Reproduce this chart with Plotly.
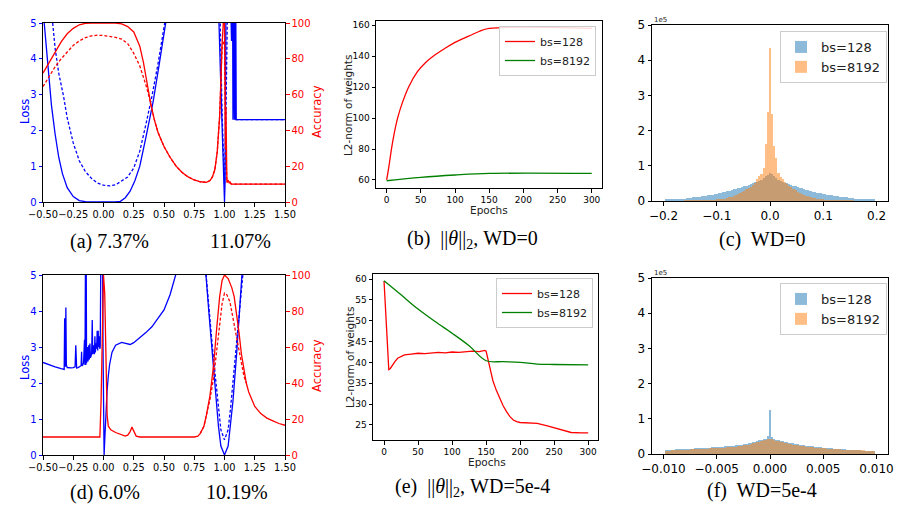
import numpy as np
import plotly.graph_objects as go

W, H = 909, 519

# ---------------- (a) loss / accuracy along interpolation, WD=0
a_x_train_loss = [-0.49, -0.47, -0.45, -0.43, -0.40, -0.37, -0.34, -0.30, -0.25, -0.20, -0.15, -0.10, 0.00, 0.10,
                  0.14, 0.18, 0.22, 0.26, 0.30, 0.35, 0.41, 0.46, 0.51, 0.53, 0.70, 0.93, 0.95, 0.97, 0.99, 1.00,
                  1.005, 1.012, 1.03, 1.055, 1.058, 1.061, 1.064, 1.067, 1.07, 1.073, 1.076, 1.079, 1.082, 1.086,
                  1.09, 1.093, 1.097, 1.10, 1.50]
a_y_train_loss = [5.0, 4.2, 3.4, 2.7, 1.9, 1.25, 0.8, 0.4, 0.15, 0.04, 0.01, 0.0, 0.0, 0.0,
                  0.02, 0.12, 0.3, 0.6, 1.0, 1.8, 2.8, 3.84, 5.0, 5.5, 9, 9, 5.5, 3.2, 0.9, 0.0,
                  0.6, 5.5, 9, 5.5, 4.5, 5.5, 4.5, 5.5, 2.3, 5.5, 2.3, 5.5, 2.3, 5.5,
                  2.3, 5.5, 2.3, 2.3, 2.3]
a_x_test_loss = [-0.42, -0.40, -0.37, -0.33, -0.30, -0.25, -0.20, -0.15, -0.10, -0.05, 0.00, 0.05, 0.10, 0.15,
                 0.20, 0.25, 0.30, 0.35, 0.40, 0.45, 0.50, 0.53, 0.70, 0.94, 0.96, 0.98, 1.00, 1.01, 1.025, 1.05,
                 1.08, 1.09, 1.10, 1.50]
a_y_test_loss = [5.0, 4.3, 3.6, 2.95, 2.35, 1.65, 1.15, 0.85, 0.66, 0.53, 0.47, 0.45, 0.48, 0.58,
                 0.7, 0.95, 1.42, 2.16, 2.95, 3.85, 4.8, 5.5, 9, 9, 5.5, 2.5, 0.5, 2.0, 5.5, 9,
                 5.5, 2.3, 2.3, 2.3]
a_x_train_acc = [-0.5, -0.45, -0.4, -0.35, -0.3, -0.25, -0.2, -0.15, -0.1, 0.0, 0.1, 0.15, 0.2, 0.25, 0.3, 0.33,
                 0.36, 0.39, 0.42, 0.45, 0.5, 0.55, 0.6, 0.65, 0.7, 0.75, 0.8, 0.85, 0.88, 0.9, 0.92, 0.94, 0.96,
                 0.97, 0.98, 0.99, 1.0, 1.005, 1.008, 1.012, 1.016, 1.02, 1.03, 1.04, 1.045, 1.05, 1.06, 1.5]
a_y_train_acc = [72, 78, 84, 89.5, 94, 97, 99, 99.8, 100, 100, 100, 99.5, 98, 95, 87, 78,
                 66, 55, 46, 39, 31, 25, 20, 16.5, 14, 12.3, 11.3, 11, 12, 14, 18, 28, 48,
                 70, 88, 100, 100, 52, 30, 53, 14, 11, 12, 10.5, 11.5, 10.2, 10, 10]
a_x_test_acc = [-0.5, -0.45, -0.4, -0.35, -0.3, -0.25, -0.2, -0.15, -0.1, -0.05, 0.0, 0.05, 0.1, 0.15, 0.2,
                0.25, 0.3, 0.35, 0.38, 0.42, 0.45, 0.5, 0.55, 0.6, 0.65, 0.7, 0.75, 0.8, 0.85, 0.88, 0.9, 0.92,
                0.94, 0.96, 0.97, 0.98, 0.99, 1.0, 1.01, 1.02, 1.03, 1.05, 1.06, 1.5]
a_y_test_acc = [64.5, 70, 75.5, 80, 84, 87.5, 90, 91.8, 92.8, 93.2, 93, 92.6, 92, 91, 88.5,
                83, 76, 65.5, 58, 46, 39, 31, 25, 20, 16.5, 14, 12.3, 11.3, 11, 12, 14, 18,
                28, 48, 70, 86, 90, 88, 30, 11, 12, 10.5, 10, 10]

# ---------------- (d) same, WD=5e-4
d_x_train_loss = [-0.5, -0.45, -0.4, -0.35, -0.325, -0.321, -0.318, -0.315, -0.311, -0.307, -0.3, -0.29, -0.27,
                  -0.25, -0.235, -0.229, -0.226, -0.222, -0.21, -0.2, -0.185, -0.181, -0.178, -0.172, -0.165,
                  -0.157, -0.153, -0.149, -0.146, -0.143, -0.14, -0.136, -0.133, -0.128, -0.122, -0.117, -0.112,
                  -0.108, -0.103, -0.098, -0.093, -0.089, -0.085, -0.08, -0.075, -0.071, -0.067, -0.062, -0.057,
                  -0.052, -0.048, -0.044, -0.04, -0.035, -0.031, -0.027, -0.022, -0.016, -0.008, -0.004, 0.0,
                  0.005, 0.01, 0.02, 0.03, 0.04, 0.05, 0.07, 0.1, 0.15, 0.18, 0.22, 0.25, 0.3, 0.35, 0.4, 0.45,
                  0.5, 0.55, 0.6, 0.63, 0.75, 0.84, 0.87, 0.9, 0.93, 0.95, 0.97, 1.0, 1.03, 1.05, 1.07, 1.1,
                  1.12, 1.15, 1.25, 1.5]
d_y_train_loss = [2.57, 2.5, 2.45, 2.4, 2.38, 3.8, 2.5, 2.45, 4.1, 2.5, 2.43, 2.42, 2.42,
                  2.43, 2.45, 3.05, 2.45, 2.42, 2.43, 2.45, 2.48, 2.87, 2.48, 2.5, 2.55,
                  3.2, 2.5, 5.5, 2.5, 5.5, 2.55, 2.7, 3.0, 2.6, 3.05, 2.65, 3.1,
                  2.7, 2.75, 2.8, 3.75, 2.8, 2.85, 3.05, 2.8, 3.3, 2.85, 3.1, 2.95,
                  3.45, 2.9, 3.45, 3.0, 3.3, 2.95, 3.0, 5.5, 5.5, 5.5, 3.0, 1.0,
                  0.0, 0.4, 1.2, 1.8, 2.2, 2.5, 2.85, 3.05, 3.13, 3.1, 3.07, 3.12, 3.25, 3.4, 3.56, 3.8,
                  4.03, 4.45, 5.0, 5.4, 8, 5.3, 4.0, 2.8, 1.5, 0.8, 0.25, 0.0, 0.25, 0.8, 1.5, 2.8,
                  3.8, 5.3, 8, 8]
d_x_test_loss = [0.84, 0.87, 0.9, 0.93, 0.95, 0.97, 1.0, 1.03, 1.05, 1.07, 1.1, 1.13, 1.16]
d_y_test_loss = [5.3, 4.1, 3.0, 2.0, 1.3, 0.7, 0.42, 0.7, 1.3, 2.0, 3.0, 4.1, 5.3]
d_x_train_acc = [-0.5, -0.03, -0.02, -0.01, 0.0, 0.01, 0.02, 0.03, 0.04, 0.06, 0.1, 0.15, 0.18, 0.2, 0.22, 0.235,
                 0.25, 0.27, 0.3, 0.75, 0.78, 0.8, 0.83, 0.85, 0.88, 0.91, 0.935, 0.96, 0.98, 1.0, 1.03, 1.06,
                 1.08, 1.1, 1.12, 1.14, 1.16, 1.18, 1.2, 1.25, 1.3, 1.35, 1.4, 1.45, 1.5]
d_y_train_acc = [10, 10, 30, 80, 100, 90, 50, 22, 16, 14, 12.5, 11, 10.5, 11, 13, 15.5,
                 13, 10.5, 10, 10, 10.5, 12, 16, 22, 33, 50, 70, 88, 97, 100, 98, 93,
                 88, 79, 68, 56, 47, 40, 35, 27, 23, 20.5, 19, 17.5, 16.5]
d_x_test_acc = [0.8, 0.83, 0.85, 0.88, 0.91, 0.935, 0.96, 0.98, 1.0, 1.02, 1.045, 1.07, 1.1, 1.14, 1.16, 1.18]
d_y_test_acc = [12, 16, 22, 31, 43, 59, 74, 84, 90, 89, 85, 76, 65, 50, 44, 40]

# ---------------- (b) / (e) L2 norm of weights over epochs
b_epochs_128 = [0, 3, 7, 11, 16, 23, 32, 45, 57, 68, 85, 100, 120, 135, 150, 300]
b_norm_128 = [60, 68, 80, 90, 100, 110, 120, 130, 136, 140, 145, 149, 153, 156, 158, 158]
b_epochs_8192 = [0, 50, 100, 150, 300]
b_norm_8192 = [59.5, 61.7, 63.2, 64.2, 64.2]

e_epochs_128 = [0, 7, 9, 12, 16, 20, 25, 30, 40, 50, 60, 70, 80, 90, 100, 110, 120, 130, 140, 148, 150, 155,
                160, 165, 170, 175, 180, 185, 190, 195, 200, 210, 225, 240, 250, 260, 275, 290, 300]
e_norm_128 = [59.5, 38.3, 38.5, 39.3, 40.2, 41.0, 41.4, 41.8, 42.0, 42.2, 42.1, 42.3, 42.4, 42.3, 42.5, 42.4,
              42.6, 42.7, 42.6, 42.9, 42.7, 39.5, 35.6, 33.3, 31.4, 29.6, 28.2, 27.0, 26.2, 25.8, 25.6, 25.5,
              25.4, 24.8, 24.3, 23.9, 23.2, 23.1, 23.1]
e_epochs_8192 = [0, 25, 50, 75, 100, 125, 150, 175, 200, 225, 250, 300]
e_norm_8192 = [59.6, 56.2, 52.8, 49.8, 47.0, 44.0, 40.4, 40.2, 40.0, 39.6, 39.5, 39.4]

# ---------------- (c) / (f) weight histograms, counts in units of 1e5
c_bins = np.round(np.arange(-49, 50) * 0.004, 4)
c_count_128 = [0.04, 0.04, 0.05, 0.05, 0.05, 0.06, 0.06, 0.06, 0.07, 0.07,
               0.08, 0.08, 0.09, 0.10, 0.10, 0.11, 0.12, 0.13, 0.14, 0.15,
               0.16, 0.17, 0.18, 0.19, 0.21, 0.22, 0.23, 0.25, 0.26, 0.28,
               0.29, 0.31, 0.33, 0.34, 0.36, 0.38, 0.40, 0.42, 0.44, 0.46,
               0.48, 0.50, 0.53, 0.55, 0.58, 0.61, 0.65, 0.70, 0.74,
               0.80,
               0.76, 0.70, 0.65, 0.61, 0.58, 0.55, 0.52, 0.50, 0.48,
               0.46, 0.44, 0.42, 0.40, 0.38, 0.36, 0.34, 0.32, 0.30, 0.29,
               0.27, 0.26, 0.24, 0.23, 0.22, 0.20, 0.19, 0.18, 0.17, 0.16,
               0.15, 0.14, 0.13, 0.12, 0.11, 0.10, 0.10, 0.09, 0.08, 0.08,
               0.07, 0.07, 0.06, 0.06, 0.05, 0.05, 0.05, 0.04, 0.04, 0.04]
c_count_8192 = [0, 0, 0, 0, 0, 0, 0, 0, 0, 0.002,
                0.003, 0.004, 0.005, 0.006, 0.007, 0.008, 0.009, 0.010, 0.012, 0.014,
                0.016, 0.019, 0.022, 0.026, 0.031, 0.037, 0.045, 0.055, 0.066, 0.08,
                0.10, 0.12, 0.14, 0.17, 0.20, 0.23, 0.26, 0.29, 0.33, 0.36,
                0.40, 0.45, 0.52, 0.62, 0.70, 0.78, 0.93, 1.61, 2.54,
                4.34,
                2.47, 1.56, 1.21, 0.79, 0.68, 0.62, 0.55, 0.49, 0.44,
                0.40, 0.35, 0.31, 0.27, 0.24, 0.21, 0.18, 0.15, 0.13, 0.11,
                0.09, 0.075, 0.062, 0.05, 0.04, 0.033, 0.027, 0.022, 0.018, 0.015,
                0.012, 0.010, 0.008, 0.007, 0.006, 0.005, 0.004, 0.003, 0.002, 0.002,
                0, 0, 0, 0, 0, 0, 0, 0, 0, 0]

f_bins = np.round(np.arange(-49, 50) * 0.0002, 5)
f_count_128 = [0.10, 0.11, 0.11, 0.12, 0.12, 0.13, 0.13, 0.14, 0.14, 0.14,
               0.14, 0.15, 0.15, 0.15, 0.16, 0.16, 0.16, 0.17, 0.17, 0.17,
               0.18, 0.18, 0.19, 0.19, 0.20, 0.20, 0.21, 0.21, 0.22, 0.22,
               0.23, 0.23, 0.24, 0.25, 0.26, 0.26, 0.27, 0.28, 0.29, 0.31,
               0.32, 0.34, 0.35, 0.37, 0.39, 0.40, 0.42, 0.44, 0.50,
               1.25,
               0.48, 0.43, 0.41, 0.39, 0.38, 0.36, 0.35, 0.34, 0.32,
               0.31, 0.30, 0.29, 0.28, 0.27, 0.26, 0.25, 0.24, 0.24, 0.23,
               0.22, 0.21, 0.20, 0.19, 0.19, 0.18, 0.17, 0.17, 0.16, 0.16,
               0.15, 0.15, 0.14, 0.14, 0.13, 0.13, 0.12, 0.12, 0.11, 0.11,
               0.10, 0.10, 0.10, 0.09, 0.09, 0.09, 0.08, 0.08, 0.08, 0.08]
f_count_8192 = [0.08, 0.09, 0.09, 0.10, 0.10, 0.11, 0.11, 0.11, 0.12, 0.12,
                0.12, 0.12, 0.13, 0.13, 0.13, 0.13, 0.14, 0.14, 0.15, 0.15,
                0.15, 0.16, 0.16, 0.16, 0.17, 0.17, 0.17, 0.18, 0.18, 0.19,
                0.19, 0.20, 0.21, 0.21, 0.22, 0.23, 0.24, 0.25, 0.26, 0.27,
                0.29, 0.30, 0.32, 0.33, 0.35, 0.37, 0.39, 0.41, 0.42,
                0.43,
                0.42, 0.40, 0.38, 0.37, 0.35, 0.34, 0.32, 0.31, 0.29,
                0.28, 0.27, 0.26, 0.25, 0.24, 0.23, 0.22, 0.21, 0.21, 0.20,
                0.19, 0.18, 0.18, 0.17, 0.17, 0.16, 0.16, 0.15, 0.15, 0.14,
                0.14, 0.13, 0.13, 0.13, 0.12, 0.12, 0.12, 0.11, 0.11, 0.11,
                0.11, 0.10, 0.10, 0.10, 0.10, 0.09, 0.09, 0.09, 0.09, 0.09]

BLUE, RED, GREEN = "#0000ff", "#ff0000", "#008000"
HIST_BLUE, HIST_ORANGE = "#1f77b4", "#ff7f0e"
SANS = "DejaVu Sans"
SERIF = "Liberation Serif"


def hx(p):
    return p / W


def hy(p):
    return 1 - p / H


fig = go.Figure()


def add_line(x, y, xa, ya, color, dash="solid", name=None, legend=None, shape="linear"):
    fig.add_trace(go.Scatter(x=x, y=y, xaxis=xa, yaxis=ya, mode="lines",
                             line=dict(color=color, width=1.3, dash=dash, shape=shape),
                             name=name, showlegend=legend is not None,
                             legend=legend or "legend", hoverinfo="skip"))


def add_hist(x, y, width, xa, ya, color, name, legend):
    fig.add_trace(go.Bar(x=x, y=y, width=width, xaxis=xa, yaxis=ya, name=name,
                         marker=dict(color=color, line=dict(width=0)), opacity=0.5,
                         legend=legend, hoverinfo="skip"))


# (a)
add_line(a_x_train_loss, a_y_train_loss, "x", "y", BLUE)
add_line(a_x_test_loss, a_y_test_loss, "x", "y", BLUE, dash="3px,2px")
add_line(a_x_train_acc, a_y_train_acc, "x", "y2", RED)
add_line(a_x_test_acc, a_y_test_acc, "x", "y2", RED, dash="3px,2px")
# (d)
add_line(d_x_train_loss, d_y_train_loss, "x2", "y3", BLUE)
add_line(d_x_test_loss, d_y_test_loss, "x2", "y3", BLUE, dash="3px,2px")
add_line(d_x_train_acc, d_y_train_acc, "x2", "y4", RED)
add_line(d_x_test_acc, d_y_test_acc, "x2", "y4", RED, dash="3px,2px")
# (b)
add_line(b_epochs_128, b_norm_128, "x3", "y5", RED, name="bs=128", legend="legend", shape="spline")
add_line(b_epochs_8192, b_norm_8192, "x3", "y5", GREEN, name="bs=8192", legend="legend", shape="spline")
# (e)
add_line(e_epochs_128, e_norm_128, "x4", "y6", RED, name="bs=128", legend="legend2")
add_line(e_epochs_8192, e_norm_8192, "x4", "y6", GREEN, name="bs=8192", legend="legend2", shape="spline")
# (c)
add_hist(c_bins, c_count_128, 0.004, "x5", "y7", HIST_BLUE, "bs=128", "legend3")
add_hist(c_bins, c_count_8192, 0.004, "x5", "y7", HIST_ORANGE, "bs=8192", "legend3")
# (f)
add_hist(f_bins, f_count_128, 0.0002, "x6", "y8", HIST_BLUE, "bs=128", "legend4")
add_hist(f_bins, f_count_8192, 0.0002, "x6", "y8", HIST_ORANGE, "bs=8192", "legend4")


def axis(domain, rng, size=10, color="#000000", **kw):
    d = dict(domain=domain, range=rng, showline=True, linecolor="black", linewidth=1, mirror=True,
             ticks="outside", ticklen=3.5, tickwidth=1, tickcolor=color, showgrid=False, zeroline=False,
             tickfont=dict(family=SANS, size=size, color=color), fixedrange=True,
             automargin=False, tickangle=0)
    d.update(kw)
    return d


A_X = [hx(43), hx(285)]
layout = dict(
    width=W, height=H, margin=dict(l=0, r=0, t=0, b=0, autoexpand=False),
    paper_bgcolor="white", plot_bgcolor="white", barmode="overlay", bargap=0,
    font=dict(family=SANS, color="#222"),
    xaxis=axis(A_X, [-0.5, 1.5], size=9.8, anchor="y", tick0=-0.5, dtick=0.25, tickformat=".2f"),
    yaxis=axis([hy(202), hy(23)], [0, 5], color=BLUE, anchor="x", dtick=1),
    yaxis2=axis([hy(202), hy(23)], [0, 100], color=RED, anchor="x", overlaying="y", side="right",
                dtick=20, mirror=False),
    xaxis2=axis(A_X, [-0.5, 1.5], size=9.8, anchor="y3", tick0=-0.5, dtick=0.25, tickformat=".2f"),
    yaxis3=axis([hy(455), hy(275)], [0, 5], color=BLUE, anchor="x2", dtick=1),
    yaxis4=axis([hy(455), hy(275)], [0, 100], color=RED, anchor="x2", overlaying="y3", side="right",
                dtick=20, mirror=False),
    xaxis3=axis([hx(376), hx(602)], [-15.6, 315], size=9, anchor="y5", dtick=50),
    yaxis5=axis([hy(188), hy(21)], [54.8, 162.8], size=9, anchor="x3", dtick=20),
    xaxis4=axis([hx(373), hx(598)], [-16.2, 314.4], size=9, anchor="y6", dtick=50),
    yaxis6=axis([hy(440), hy(274)], [21.4, 61.2], size=9, anchor="x4", dtick=5),
    xaxis5=axis([hx(652), hx(888)], [-0.2215, 0.2215], size=12, anchor="y7", dtick=0.1, tickformat=".1f"),
    yaxis7=axis([hy(201), hy(25)], [0, 5], size=12, anchor="x5", dtick=1),
    xaxis6=axis([hx(652), hx(888)], [-0.01108, 0.01108], size=12, anchor="y8", dtick=0.005,
                tickformat=".3f"),
    yaxis8=axis([hy(454), hy(278)], [0, 5], size=12, anchor="x6", dtick=1),
)

leg = dict(bgcolor="rgba(255,255,255,0.85)", bordercolor="#cccccc", borderwidth=1,
           xanchor="right", yanchor="top", tracegroupgap=0, itemwidth=30)
layout["legend"] = dict(leg, x=hx(596), y=hy(26), font=dict(family=SANS, size=11, color="#222"))
layout["legend2"] = dict(leg, x=hx(593), y=hy(278), font=dict(family=SANS, size=11, color="#222"))
layout["legend3"] = dict(leg, x=hx(887), y=hy(31), font=dict(family=SANS, size=13, color="#222"))
layout["legend4"] = dict(leg, x=hx(887), y=hy(283), font=dict(family=SANS, size=13, color="#222"))

fig.update_layout(**layout)


def label(text, x, y, size, color="#222", angle=0, family=SANS, xanchor="center"):
    fig.add_annotation(text=text, x=hx(x), y=hy(y), xref="paper", yref="paper", showarrow=False,
                       textangle=angle, xanchor=xanchor, yanchor="middle",
                       font=dict(family=family, size=size, color=color))


# axis titles
label("Loss", 25, 112, 11.5, BLUE, -90)
label("Accuracy", 317, 112, 11.5, RED, -90)
label("Loss", 25, 368, 11.5, BLUE, -90)
label("Accuracy", 317, 366, 11.5, RED, -90)
label("L2-norm of weights", 348, 106, 10.5, angle=-90)
label("Epochs", 489, 209.5, 10.5)
label("L2-norm of weights", 350, 358, 10.5, angle=-90)
label("Epochs", 487, 461.5, 10.5)
label("1e5", 652, 20, 7, xanchor="left")
label("1e5", 652, 273, 7, xanchor="left")

# captions
CAP = 20
label("(a) 7.37%", 68, 241, CAP, "#000", family=SERIF, xanchor="left")
label("11.07%", 273, 241, CAP, "#000", family=SERIF, xanchor="right")
label("(d) 6.0%", 68, 492, CAP, "#000", family=SERIF, xanchor="left")
label("10.19%", 270, 492, CAP, "#000", family=SERIF, xanchor="right")
label("(b)  ||<i>θ</i>||<sub>2</sub>, WD=0", 472, 239, CAP, "#000", family=SERIF)
label("(e)  ||<i>θ</i>||<sub>2</sub>, WD=5e-4", 472, 487, CAP, "#000", family=SERIF)
label("(c)  WD=0", 762, 239, CAP, "#000", family=SERIF)
label("(f)  WD=5e-4", 762, 490, CAP, "#000", family=SERIF)

# the page keeps the browser's default 8px body margin; drop it so paper pixels match the window
fig.write_html("out.html", config={"displayModeBar": False},
               post_script="document.body.style.margin='0';")
